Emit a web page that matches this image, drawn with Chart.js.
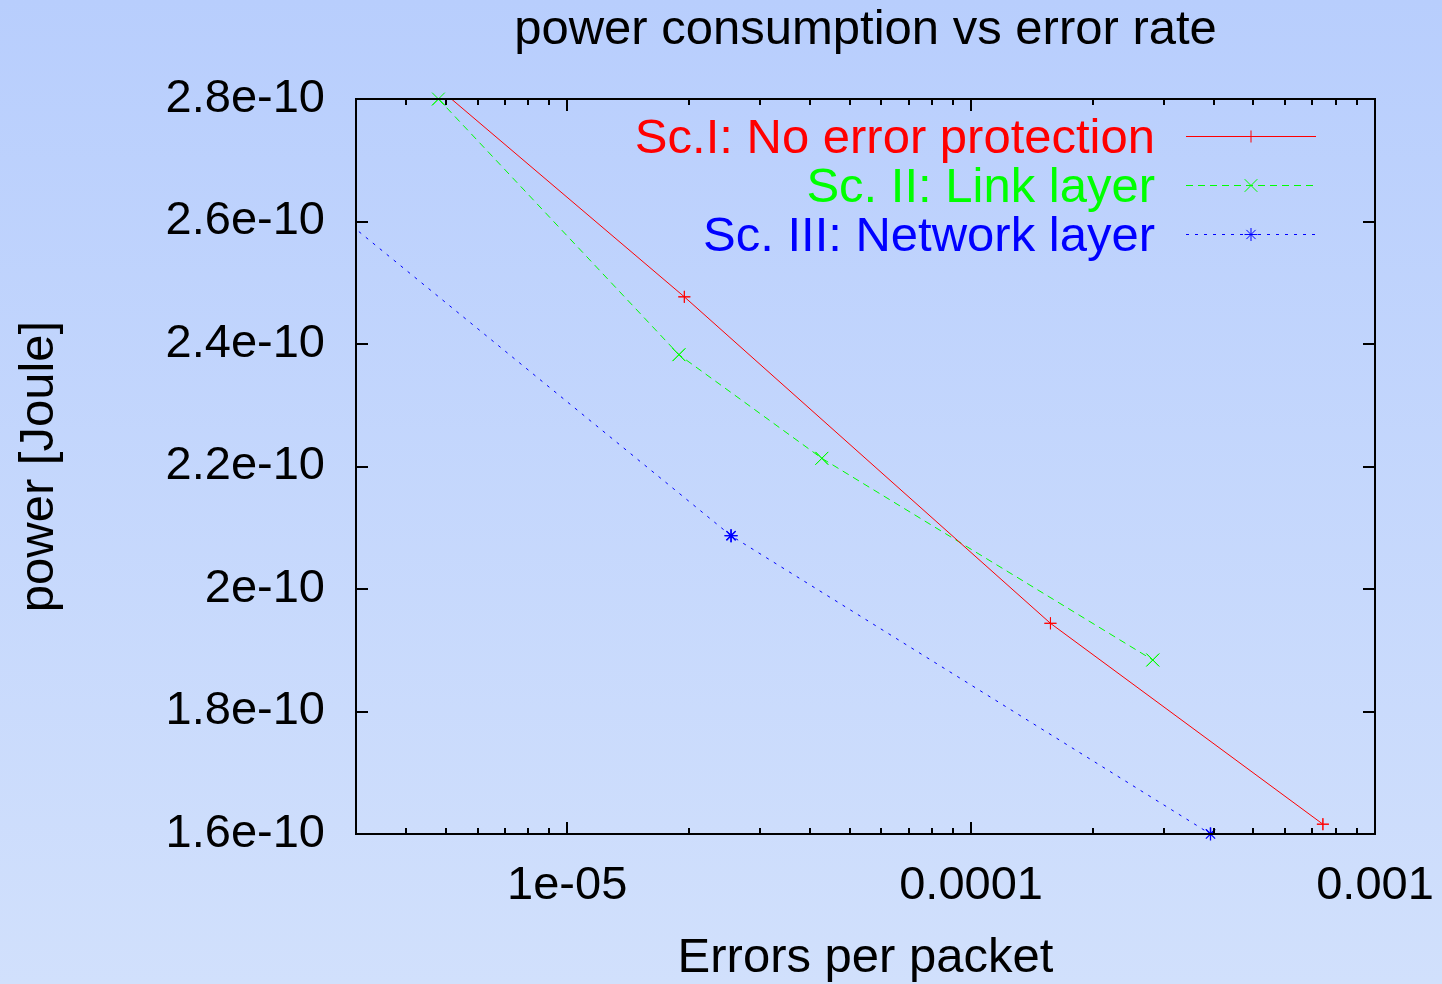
<!DOCTYPE html>
<html><head><meta charset="utf-8">
<script src="https://cdn.jsdelivr.net/npm/chart.js@4.4.0/dist/chart.umd.min.js"></script>
<style>html,body{margin:0;padding:0;background:#c4d7fc;overflow:hidden}canvas{display:block}</style>
</head><body><canvas id="c" width="1442" height="984"></canvas>
<script>
// ---- data ----
const chartTitle = 'power consumption vs error rate';
const xAxisTitle = 'Errors per packet';
const yAxisTitle = 'power [Joule]';
const seriesNames = ['Sc.I: No error protection', 'Sc. II: Link layer', 'Sc. III: Network layer'];

const redX   = [4.8e-6, 1.95e-5, 1.572e-4, 7.43e-4];
const redY   = [2.818e-10, 2.477e-10, 1.944e-10, 1.616e-10];
const greenX = [4.8e-6, 1.891e-5, 4.27e-5, 2.818e-4];
const greenY = [2.8e-10, 2.3825e-10, 2.2134e-10, 1.8841e-10];
const blueX  = [2.5e-6, 2.545e-5, 3.915e-4];
const blueY  = [2.63e-10, 2.087e-10, 1.6e-10];

const xTickValues = [3e-6,4e-6,5e-6,6e-6,7e-6,8e-6,9e-6,
                     1e-5,2e-5,3e-5,4e-5,5e-5,6e-5,7e-5,8e-5,9e-5,
                     1e-4,2e-4,3e-4,4e-4,5e-4,6e-4,7e-4,8e-4,9e-4,1e-3];
const xTickLabels = ['','','','','','','',
                     '1e-05','','','','','','','','',
                     '0.0001','','','','','','','','',
                     '0.001'];
const yTickValues = [1.6e-10,1.8e-10,2.0e-10,2.2e-10,2.4e-10,2.6e-10,2.8e-10];
const yTickLabels = ['1.6e-10','1.8e-10','2e-10','2.2e-10','2.4e-10','2.6e-10','2.8e-10'];

const FONT = '"Liberation Sans", Arial, Helvetica, sans-serif';
const toPts = (xs, ys) => xs.map((x, i) => ({x: x, y: ys[i]}));

const bgPlugin = {
  id: 'bg',
  beforeDraw(chart) {
    const ctx = chart.ctx;
    const g = ctx.createLinearGradient(0, 0, 0, chart.height);
    g.addColorStop(0, '#b8cefd');
    g.addColorStop(1, '#d1e0fc');
    ctx.save();
    ctx.fillStyle = g;
    ctx.fillRect(0, 0, chart.width, chart.height);
    ctx.restore();
  }
};

const framePlugin = {
  id: 'frame',
  afterDatasetsDraw(chart) {
    const ctx = chart.ctx;
    const xs = chart.scales.x, ys = chart.scales.y;
    const a = chart.chartArea;
    // redraw markers lying on the frame edges without clipping
    chart.data.datasets.forEach((ds, i) => {
      const meta = chart.getDatasetMeta(i);
      meta.data.forEach((el, j) => {
        const p = ds.data[j];
        const eps = 1e-14;
        if (p.x >= xs.min * 0.999 && p.x <= xs.max * 1.001 && p.y >= ys.min - eps && p.y <= ys.max + eps) {
          el.draw(ctx);
        }
      });
    });
    ctx.save();
    ctx.strokeStyle = '#000';
    ctx.lineWidth = 2;
    ctx.setLineDash([]);
    ctx.strokeRect(a.left, a.top, a.right - a.left, a.bottom - a.top);
    ctx.beginPath();
    xs.ticks.forEach((t, i) => {
      const px = Math.round(xs.getPixelForValue(t.value));
      const len = xTickLabels[i] ? 12 : 6;
      ctx.moveTo(px, a.bottom); ctx.lineTo(px, a.bottom - len);
      ctx.moveTo(px, a.top); ctx.lineTo(px, a.top + len);
    });
    ys.ticks.forEach((t) => {
      const py = Math.round(ys.getPixelForValue(t.value));
      ctx.moveTo(a.left, py); ctx.lineTo(a.left + 12, py);
      ctx.moveTo(a.right, py); ctx.lineTo(a.right - 12, py);
    });
    ctx.stroke();

    // gnuplot-style key
    chart.data.datasets.forEach((ds, i) => {
      const y = a.top + 37 + i * 49;
      ctx.font = '49px ' + FONT;
      ctx.fillStyle = ds.borderColor;
      ctx.textAlign = 'right';
      ctx.textBaseline = 'middle';
      ctx.fillText(ds.label, a.right - 220, y + 3);
      ctx.strokeStyle = ds.borderColor;
      ctx.lineWidth = 1;
      ctx.setLineDash(ds.borderDash || []);
      ctx.beginPath();
      ctx.moveTo(a.right - 189, y + 0.5); ctx.lineTo(a.right - 59, y + 0.5);
      ctx.stroke();
      ctx.setLineDash([]);
      Chart.helpers.drawPoint(ctx, {pointStyle: ds.pointStyle, radius: ds.pointRadius, rotation: 0, borderWidth: 1}, a.right - 124, y + 0.5);
    });
    ctx.restore();
  }
};

new Chart(document.getElementById('c'), {
  type: 'line',
  data: {
    datasets: [
      {label: seriesNames[0], data: toPts(redX, redY), borderColor: '#ff0000', backgroundColor: '#ff0000',
       borderWidth: 1, pointStyle: 'cross', pointRadius: 6, pointBorderWidth: 1, fill: false, tension: 0},
      {label: seriesNames[1], data: toPts(greenX, greenY), borderColor: '#00ff00', backgroundColor: '#00ff00',
       borderWidth: 1, borderDash: [7, 5], pointStyle: 'crossRot', pointRadius: 9, pointBorderWidth: 1, fill: false, tension: 0},
      {label: seriesNames[2], data: toPts(blueX, blueY), borderColor: '#0000ff', backgroundColor: '#0000ff',
       borderWidth: 1, borderDash: [3, 6], pointStyle: 'star', pointRadius: 6.5, pointBorderWidth: 1.3, fill: false, tension: 0}
    ]
  },
  options: {
    responsive: false,
    animation: false,
    devicePixelRatio: 1,
    layout: {padding: {left: 0, right: 67, top: 0, bottom: 0}},
    plugins: {
      legend: {display: false},
      tooltip: {enabled: false},
      title: {display: true, text: chartTitle, fullSize: false, color: '#000',
              font: {family: FONT, size: 49, weight: 'normal'}, padding: {top: 1, bottom: 39.2}}
    },
    scales: {
      x: {
        type: 'logarithmic', min: 3e-6, max: 1e-3,
        grid: {display: false, drawTicks: false},
        border: {display: false},
        afterBuildTicks: (s) => { s.ticks = xTickValues.map(v => ({value: v})); },
        afterFit: (s) => { s.height = 150; s.paddingLeft = 0; s.paddingRight = 0; },
        ticks: {autoSkip: false, maxRotation: 0, minRotation: 0, padding: 24, color: '#000',
                font: {family: FONT, size: 47}, callback: (v, i) => xTickLabels[i]},
        title: {display: true, text: xAxisTitle, color: '#000', font: {family: FONT, size: 49}, padding: {top: 0, bottom: -4}}
      },
      y: {
        type: 'linear', min: 1.6e-10, max: 2.8e-10,
        grid: {display: false, drawTicks: false},
        border: {display: false},
        afterBuildTicks: (s) => { s.ticks = yTickValues.map(v => ({value: v})); },
        afterFit: (s) => { s.width = 356; s.paddingTop = 0; s.paddingBottom = 0; },
        ticks: {padding: 31, color: '#000', font: {family: FONT, size: 47}, callback: (v, i) => yTickLabels[i]},
        title: {display: true, text: yAxisTitle, color: '#000', font: {family: FONT, size: 49}, padding: {top: 10, bottom: 0}}
      }
    }
  },
  plugins: [bgPlugin, framePlugin]
});
</script>
</body></html>
